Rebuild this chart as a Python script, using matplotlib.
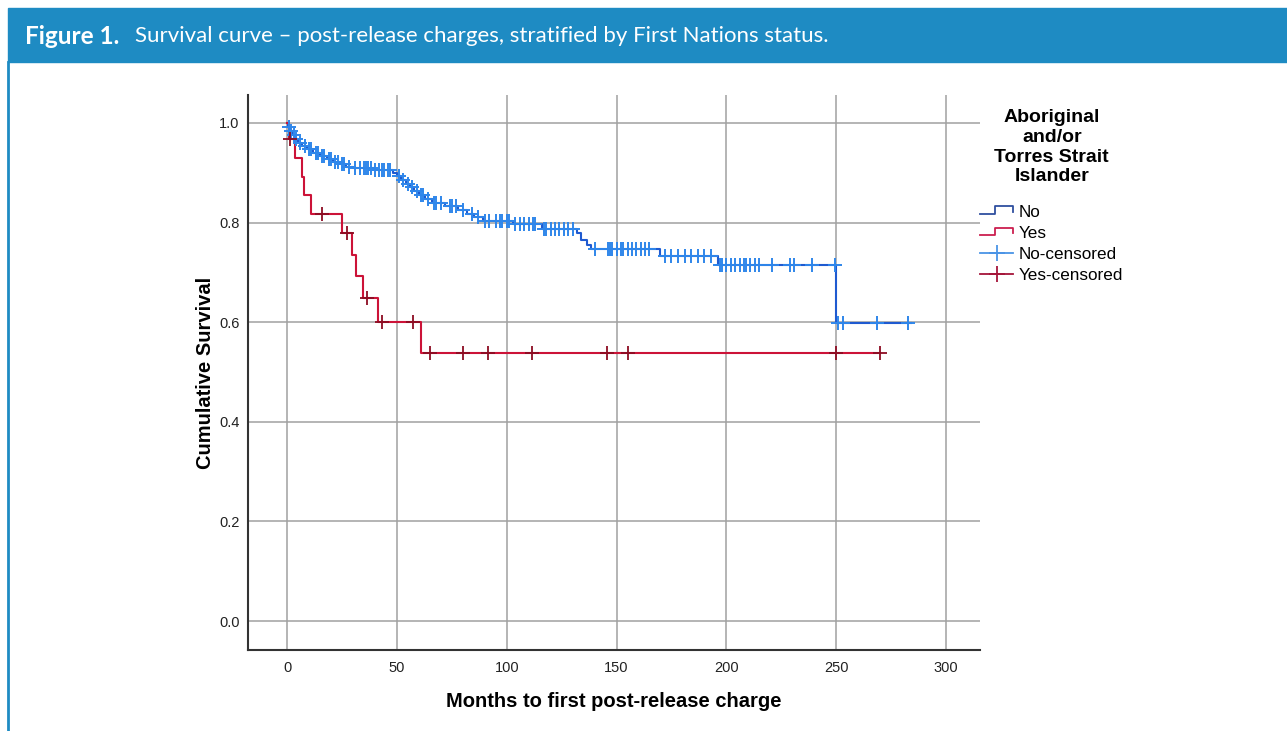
import matplotlib.pyplot as plt
import numpy as np
from matplotlib.legend_handler import HandlerBase
from matplotlib.lines import Line2D
from matplotlib.patches import Rectangle

plt.rcParams['font.family'] = 'Liberation Sans'

# Kaplan-Meier steps (time in months, survival after the drop)
no_times = [0, 0.5, 1.5, 2.5, 3.5, 5, 7, 9, 12, 15, 18, 21, 24, 27, 30, 40, 48, 50, 52, 54,
            56, 58, 60, 63, 66, 72, 78, 82, 85, 89, 103, 116, 132, 134, 136.5, 138.5, 170, 196,
            250, 284]
no_surv = [1.0, 0.992, 0.984, 0.976, 0.968, 0.96, 0.953, 0.947, 0.94, 0.934, 0.928, 0.922,
           0.917, 0.912, 0.909, 0.906, 0.9, 0.893, 0.886, 0.878, 0.871, 0.864, 0.856, 0.848,
           0.84, 0.833, 0.826, 0.818, 0.811, 0.803, 0.797, 0.787, 0.779, 0.765, 0.755, 0.747,
           0.733, 0.715, 0.598, 0.598]

yes_times = [0, 1, 3.6, 6.8, 7.5, 10.8, 25, 29.5, 31.4, 34.6, 41.4, 61, 270]
yes_surv = [1.0, 0.968, 0.93, 0.891, 0.855, 0.817, 0.779, 0.735, 0.693, 0.649, 0.6, 0.538, 0.538]

# censored observations (months)
no_cens = [1, 2, 3, 4, 6, 8, 10, 11, 13, 14, 16, 17, 19, 20, 22, 23, 25, 26, 28, 31, 33, 35,
           36, 37, 38, 40, 42, 43, 44, 46, 47, 51, 53, 55, 57, 59, 61, 62, 64, 67, 68, 70, 74,
           75, 77, 80, 84, 87, 90, 92, 95, 97, 98, 100, 101, 104, 106, 108, 110, 112, 113, 117,
           118, 120, 122, 124, 126, 128, 130, 140, 146, 147, 148, 150, 152, 153, 155, 157, 159,
           161, 163, 165, 172, 175, 178, 181, 184, 187, 190, 193, 197, 198, 200, 202, 204, 206,
           208, 209, 211, 213, 215, 221, 229, 231, 239, 249.5, 251, 253, 268.5, 282.7]
yes_cens = [1.4, 16, 27.5, 36.5, 43, 57.3, 65, 80, 91.5, 111.5, 145.6, 155, 250, 270]


def step_value(times, surv, t):
    idx = np.searchsorted(times, t, side='right') - 1
    return np.array(surv)[idx]


class StepHandler(HandlerBase):
    def create_artists(self, legend, orig_handle, xd, yd, w, h, fontsize, trans):
        xs = [-xd, -xd + w * 0.45, -xd + w * 0.45, -xd + w, -xd + w]
        ys = [-yd + h * 0.2, -yd + h * 0.2, -yd + h * 0.85, -yd + h * 0.85, -yd + h * 0.4]
        ln = Line2D(xs, ys, color=orig_handle.get_color(), lw=1.3)
        ln.set_transform(trans)
        return [ln]


class CensHandler(HandlerBase):
    def create_artists(self, legend, orig_handle, xd, yd, w, h, fontsize, trans):
        ln = Line2D([-xd, -xd + w], [-yd + h / 2, -yd + h / 2], color=orig_handle.get_color(), lw=1.3)
        mk = Line2D([-xd + w / 2], [-yd + h / 2], marker='+', ms=12, mew=1.3,
                    color=orig_handle.get_color(), ls='none')
        ln.set_transform(trans)
        mk.set_transform(trans)
        return [ln, mk]


fig = plt.figure(figsize=(12.87, 7.31), dpi=100)

# header bar and left border
fig.patches.append(Rectangle((8 / 1287, 1 - 62 / 731), 1, 54 / 731, transform=fig.transFigure,
                             color='#1e8bc3', zorder=0))
fig.add_artist(Line2D([8 / 1287, 8 / 1287], [0, 1 - 62 / 731], transform=fig.transFigure,
                      color='#1e8bc3', lw=2))
fig.text(25 / 1287, 1 - 36 / 731, 'Figure 1.', color='white', fontsize=17.5, fontweight='bold',
         family='Lato', va='center')
fig.text(135 / 1287, 1 - 36 / 731,
         'Survival curve \u2013 post-release charges, stratified by First Nations status.',
         color='white', fontsize=16, family='Lato', va='center')

ax = fig.add_axes([248 / 1287, 1 - 650 / 731, 732 / 1287, 555 / 731])

blue_line = '#1f5ad0'
blue_mark = '#2f86ea'
red_line = '#cc1338'
red_mark = '#8c0c22'

ax.step(no_times, no_surv, where='post', color=blue_line, lw=1.5, zorder=3)
ax.plot(no_cens, step_value(no_times, no_surv, no_cens), ls='none', marker='+', ms=10,
        mew=1.4, color=blue_mark, zorder=4)
ax.step(yes_times, yes_surv, where='post', color=red_line, lw=1.5, zorder=3)
ax.plot(yes_cens, step_value(yes_times, yes_surv, yes_cens), ls='none', marker='+', ms=10,
        mew=1.3, color=red_mark, zorder=4)

ax.set_xlim(-17.8, 315.5)
ax.set_ylim(-0.058, 1.056)
ax.set_xticks([0, 50, 100, 150, 200, 250, 300])
ax.set_yticks([0.0, 0.2, 0.4, 0.6, 0.8, 1.0])
ax.set_yticklabels(['0.0', '0.2', '0.4', '0.6', '0.8', '1.0'])
ax.grid(True, color='#a0a0a0', lw=1.1)
ax.set_axisbelow(True)
for s in ['top', 'right']:
    ax.spines[s].set_visible(False)
for s in ['left', 'bottom']:
    ax.spines[s].set_color('#333333')
    ax.spines[s].set_linewidth(1.5)
ax.tick_params(length=0, pad=6, labelsize=10.5, colors='#222222')
ax.tick_params(axis='x', pad=8)

ax.set_xlabel('Months to first post-release charge', fontsize=14.5, fontweight='bold',
              labelpad=12)
ax.set_ylabel('Cumulative Survival', fontsize=14.5, fontweight='bold', labelpad=3)

h_no = Line2D([], [], color='#2f4f9f')
h_yes = Line2D([], [], color='#cc1f4f')
h_noc = Line2D([], [], color='#4a94e6')
h_yesc = Line2D([], [], color='#a5153a')
leg = fig.legend([h_no, h_yes, h_noc, h_yesc], ['No', 'Yes', 'No-censored', 'Yes-censored'],
                 handler_map={h_no: StepHandler(), h_yes: StepHandler(),
                              h_noc: CensHandler(), h_yesc: CensHandler()},
                 title='Aboriginal\nand/or\nTorres Strait\nIslander',
                 loc='upper left', bbox_to_anchor=(965 / 1287, 1 - 94 / 731),
                 frameon=False, handlelength=1.9, handletextpad=0.35, labelspacing=0.36,
                 prop={'size': 12.3},
                 title_fontproperties={'weight': 'bold', 'size': 14})
leg.get_title().set_multialignment('center')
leg._legend_box.sep = 14

fig.savefig('out.png', dpi=100)
